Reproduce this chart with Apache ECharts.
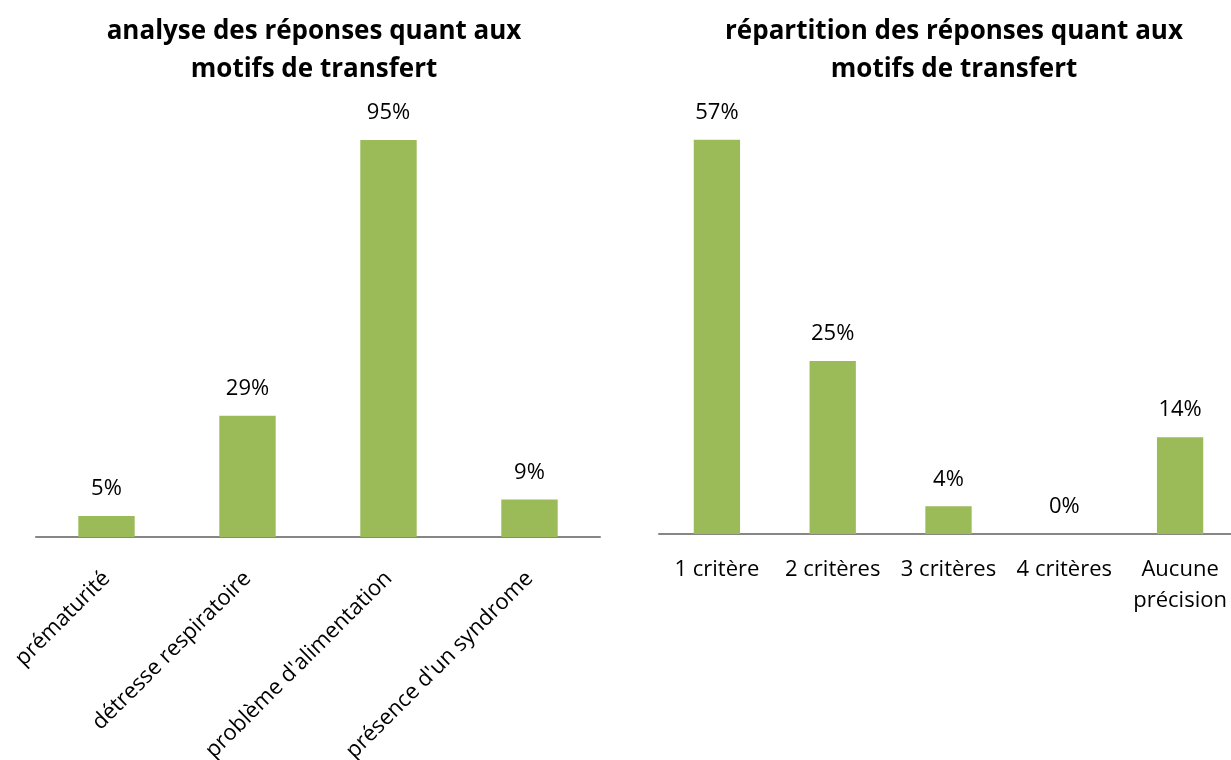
<!DOCTYPE html>
<html>
<head>
<meta charset="utf-8">
<script src="https://cdn.jsdelivr.net/npm/echarts@6/dist/echarts.min.js"></script>
<style>
	html, body { margin: 0; padding: 0; background: #fff; }
	#main { width: 1231px; height: 760px; }
</style>
</head>
<body>
<div id="main"></div>
<script>
	// graphique de gauche : motifs de transfert
	var motifs = ['prématurité', 'détresse respiratoire', "problème d'alimentation", "présence d'un syndrome"];
	var motifsValeurs = [5, 29, 95, 9];
	// graphique de droite : nombre de critères
	var criteres = ['1 critère', '2 critères', '3 critères', '4 critères', 'Aucune précision'];
	var criteresValeurs = [57, 25, 4, 0, 14];

	var police = 'Open Sans';
	var vert = '#9bbb59';

	var myChart = echarts.init(document.getElementById('main'));

	var labelBarre = {
		show : true,
		position : 'top',
		distance : 16,
		formatter : '{c}%',
		color : '#000',
		fontFamily : police,
		fontSize : 22
	};

	var styleTitre = {
		fontFamily : police,
		fontWeight : 'bold',
		fontSize : 26,
		lineHeight : 38,
		color : '#000'
	};

	var option = {
		animation : false,
		title : [ {
			text : 'analyse des réponses quant aux\nmotifs de transfert',
			left : 309,
			top : 8,
			textAlign : 'center',
			textStyle : styleTitre
		}, {
			text : 'répartition des réponses quant aux\nmotifs de transfert',
			left : 949,
			top : 8,
			textAlign : 'center',
			textStyle : styleTitre
		} ],
		grid : [ {
			left : 36,
			top : 119,
			width : 564,
			height : 418,
			outerBoundsMode : 'none'
		}, {
			left : 659,
			top : 119,
			width : 579,
			height : 415,
			outerBoundsMode : 'none'
		} ],
		xAxis : [ {
			type : 'category',
			gridIndex : 0,
			data : motifs,
			axisLine : { lineStyle : { color : '#868686', width : 2 } },
			axisTick : { show : false },
			axisLabel : {
				rotate : 45,
				margin : 38,
				interval : 0,
				color : '#000',
				fontFamily : police,
				fontSize : 22
			}
		}, {
			type : 'category',
			gridIndex : 1,
			data : criteres,
			axisLine : { lineStyle : { color : '#868686', width : 2 } },
			axisTick : { show : false },
			axisLabel : {
				margin : 20,
				interval : 0,
				color : '#000',
				fontFamily : police,
				fontSize : 22,
				lineHeight : 31,
				formatter : function(v) {
					return v == 'Aucune précision' ? 'Aucune\nprécision' : v;
				}
			}
		} ],
		yAxis : [ {
			type : 'value',
			gridIndex : 0,
			min : 0,
			max : 100,
			show : false
		}, {
			type : 'value',
			gridIndex : 1,
			min : 0,
			max : 60,
			show : false
		} ],
		series : [ {
			type : 'bar',
			xAxisIndex : 0,
			yAxisIndex : 0,
			data : motifsValeurs,
			barWidth : '40%',
			itemStyle : { color : vert },
			label : labelBarre
		}, {
			type : 'bar',
			xAxisIndex : 1,
			yAxisIndex : 1,
			data : criteresValeurs,
			barWidth : '40%',
			itemStyle : { color : vert },
			label : labelBarre
		} ]
	};
	myChart.setOption(option);
</script>
</body>
</html>
